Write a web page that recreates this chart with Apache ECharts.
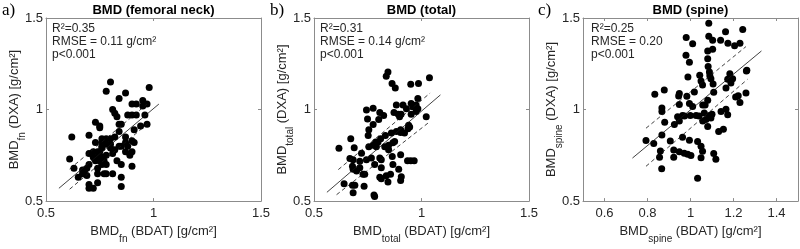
<!DOCTYPE html>
<html>
<head>
<meta charset="utf-8">
<script src="https://cdn.jsdelivr.net/npm/echarts@6/dist/echarts.min.js"></script>
<style>
html, body { margin: 0; padding: 0; background: #fff; }
#chart { width: 800px; height: 249px; }
</style>
</head>
<body>
<div id="chart"></div>
<script>
// BDAT (x) vs DXA (y), one array of points per panel
var fnPoints = [
  [0.80,1.15],[0.78,1.10],[0.62,0.85],[0.61,0.73],[0.63,0.68],[0.65,0.63],[0.98,1.12],[0.87,1.09],
  [0.84,1.06],[0.81,1.00],[0.82,0.98],[0.83,0.96],[0.90,1.03],[0.92,1.03],[0.95,1.05],[0.95,1.02],
  [0.97,1.03],[0.96,0.97],[0.92,0.97],[0.90,0.97],[0.88,0.97],[0.85,0.92],[0.84,0.92],[0.97,0.92],
  [0.94,0.91],[0.91,0.89],[0.90,0.83],[0.91,0.82],[0.87,0.85],[0.87,0.82],[0.88,0.80],[0.90,0.77],
  [0.89,0.75],[0.87,0.77],[0.85,0.80],[0.84,0.80],[0.82,0.78],[0.81,0.76],[0.83,0.72],[0.85,0.70],
  [0.90,0.69],[0.85,0.63],[0.85,0.58],[0.82,0.85],[0.80,0.84],[0.78,0.84],[0.76,0.84],[0.76,0.82],
  [0.75,0.91],[0.75,0.90],[0.73,0.93],[0.70,0.86],[0.73,0.82],[0.76,0.80],[0.76,0.79],[0.75,0.77],
  [0.74,0.77],[0.72,0.77],[0.70,0.76],[0.72,0.74],[0.74,0.74],[0.76,0.74],[0.78,0.75],[0.77,0.72],
  [0.75,0.72],[0.73,0.72],[0.70,0.70],[0.69,0.68],[0.68,0.67],[0.67,0.67],[0.67,0.65],[0.69,0.64],
  [0.74,0.68],[0.76,0.70],[0.78,0.70],[0.74,0.65],[0.77,0.65],[0.78,0.65],[0.81,0.65],[0.74,0.60],
  [0.70,0.59],[0.70,0.57],[0.72,0.57],[0.78,0.81],[0.80,0.79],[0.80,0.81],[0.84,0.88]
];
var totalPoints = [
  [0.844,1.205],[0.836,1.182],[0.863,1.142],[0.878,1.118],[1.037,1.174],[0.986,1.142],[0.950,1.138],[0.983,1.060],
  [0.883,1.025],[0.914,1.025],[0.952,1.033],[0.975,1.025],[0.960,1.015],[0.930,1.005],[0.983,1.005],[0.872,0.984],
  [0.892,0.975],[0.905,0.975],[0.898,0.960],[0.952,0.975],[0.975,0.990],[1.022,0.960],[0.775,1.007],[0.806,0.984],
  [0.824,0.968],[0.744,0.998],[0.749,0.949],[0.801,0.946],[0.775,0.919],[0.755,0.889],[0.903,0.875],[0.921,0.872],
  [0.940,0.914],[0.945,0.905],[0.937,0.895],[0.860,0.872],[0.883,0.880],[0.832,0.858],[0.810,0.840],[0.798,0.823],
  [0.787,0.823],[0.775,0.805],[0.790,0.797],[0.829,0.797],[0.847,0.805],[0.867,0.818],[0.875,0.826],[0.755,0.797],
  [0.671,0.840],[0.616,0.788],[0.687,0.791],[0.667,0.732],[0.682,0.726],[0.721,0.761],[0.713,0.718],[0.679,0.691],
  [0.682,0.674],[0.713,0.682],[0.728,0.647],[0.736,0.647],[0.698,0.665],[0.744,0.726],[0.767,0.735],[0.806,0.735],
  [0.813,0.726],[0.782,0.700],[0.813,0.682],[0.806,0.630],[0.813,0.622],[0.836,0.639],[0.856,0.647],[0.864,0.744],
  [0.867,0.700],[0.894,0.674],[0.903,0.753],[0.906,0.633],[0.903,0.612],[0.844,0.604],[0.935,0.721],[0.950,0.721],
  [0.966,0.721],[0.640,0.595],[0.679,0.586],[0.690,0.586],[0.682,0.546],[0.733,0.581],[0.779,0.533],[0.782,0.525],
  [0.752,0.858],[0.847,0.781],[0.903,0.889]
];
var spinePoints = [
  [1.085,1.472],[0.980,1.393],[1.010,1.360],[1.085,1.400],[1.103,1.379],[1.163,1.425],[1.243,1.437],[1.140,1.379],
  [1.174,1.362],[1.205,1.349],[1.230,1.362],[1.080,1.320],[1.103,1.330],[0.979,1.296],[0.995,1.258],[1.080,1.277],
  [1.082,1.235],[1.088,1.205],[1.090,1.185],[1.095,1.168],[1.043,1.188],[1.049,1.156],[1.056,1.134],[0.988,1.178],
  [1.018,1.096],[1.105,1.140],[1.108,1.095],[1.183,1.195],[1.188,1.145],[1.196,1.168],[1.173,1.165],[1.165,1.118],
  [1.260,1.210],[1.262,1.215],[1.210,1.068],[1.222,1.075],[1.230,1.038],[1.258,1.090],[0.945,1.074],[0.948,1.088],
  [0.983,1.072],[0.878,1.107],[0.834,1.084],[0.867,1.008],[0.867,0.990],[0.948,1.028],[0.995,1.033],[1.010,1.016],
  [1.057,1.025],[1.068,1.025],[1.080,1.051],[0.940,0.960],[0.963,0.967],[0.972,0.965],[0.999,0.967],[1.026,0.968],
  [1.040,0.965],[1.064,0.981],[1.088,0.968],[1.100,0.975],[1.095,0.954],[1.072,0.946],[1.057,0.937],[1.080,0.907],
  [0.925,0.919],[0.948,0.937],[0.880,0.930],[0.793,0.831],[0.829,0.815],[0.867,0.861],[0.906,0.828],[0.963,0.849],
  [0.995,0.832],[1.033,0.826],[1.049,0.800],[1.056,0.772],[1.049,0.737],[1.108,0.760],[1.118,0.729],[0.860,0.774],
  [0.856,0.740],[0.922,0.779],[0.922,0.739],[0.948,0.770],[0.971,0.761],[0.987,0.756],[1.002,0.749],[0.866,0.677],
  [1.033,0.625],[1.131,0.880],[1.153,0.893],[1.142,0.989],[1.165,1.002],[1.173,0.972]
];

// regression line and confidence bounds (end points)
var fnFit = [[0.56,0.57],[1.025,1.03]];
var fnUpper = [[0.61,0.675],[0.97,1.03]];
var fnLower = [[0.61,0.565],[0.975,0.925]];
var totalFit = [[0.56,0.548],[1.088,1.08]];
var totalUpper = [[0.613,0.672],[1.04,1.09]];
var totalLower = [[0.605,0.535],[1.04,0.935]];
var spineFit = [[0.73,0.735],[1.33,1.32]];
var spineUpper = [[0.793,0.898],[1.258,1.344]];
var spineLower = [[0.793,0.69],[1.265,1.165]];

var ticksX = [0.5, 1, 1.5];
var ticksSpineX = [0.6, 0.8, 1, 1.2, 1.4];
var ticksY = [0.5, 1, 1.5];

var panelTags = ['a)', 'b)', 'c)'];
var panelTitles = ['BMD (femoral neck)', 'BMD (total)', 'BMD (spine)'];
var subNames = ['fn', 'total', 'spine'];
var statTexts = [
  ['R\u00b2=0.35', 'RMSE = 0.11 g/cm\u00b2', 'p<0.001'],
  ['R\u00b2=0.31', 'RMSE = 0.14 g/cm\u00b2', 'p<0.001'],
  ['R\u00b2=0.25', 'RMSE = 0.20', 'p<0.001']
];

var FONT = '"Liberation Sans", Arial, Helvetica, sans-serif';
var INK = '#262626';
var BOX = '#8c8c8c';

var gridLeft = [46, 314, 583];
var gridW = 215, gridTop = 18, gridH = 190;

var pointSets = [fnPoints, totalPoints, spinePoints];
var fits = [fnFit, totalFit, spineFit];
var uppers = [fnUpper, totalUpper, spineUpper];
var lowers = [fnLower, totalLower, spineLower];
var xTickSets = [ticksX, ticksX, ticksSpineX];

function richName(sub, rest) {
  return '{b|BMD}{s|' + sub + '}{b|' + rest + '}';
}
var nameRich = {
  b: { fontSize: 13, fontFamily: FONT, color: INK, lineHeight: 16, verticalAlign: 'top' },
  s: { fontSize: 10, fontFamily: FONT, color: INK, padding: [9, 0, 0, 0], verticalAlign: 'top' }
};

var grids = [], xAxes = [], yAxes = [], series = [], graphics = [];

for (var i = 0; i < 3; i++) {
  grids.push({ left: gridLeft[i], top: gridTop, width: gridW, height: gridH, show: false });

  var lineSt = { show: true, onZero: false, lineStyle: { color: BOX, width: 1 } };
  var tickSt = { show: true, inside: true, length: 3, lineStyle: { color: BOX }, customValues: xTickSets[i] };
  xAxes.push({
    gridIndex: i, type: 'value', position: 'bottom', min: 0.5, max: 1.5,
    axisLine: lineSt, axisTick: tickSt, splitLine: { show: false },
    axisLabel: { customValues: xTickSets[i], color: INK, fontSize: 13, fontFamily: FONT, margin: 6 },
    name: richName(subNames[i], ' (BDAT) [g/cm\u00b2]'),
    nameLocation: 'middle', nameGap: 17,
    nameTextStyle: { rich: nameRich }
  });
  yAxes.push({
    gridIndex: i, type: 'value', position: 'left', min: 0.5, max: 1.5,
    axisLine: lineSt,
    axisTick: { show: true, inside: true, length: 3, lineStyle: { color: BOX }, customValues: ticksY },
    splitLine: { show: false },
    axisLabel: { customValues: ticksY, color: INK, fontSize: 13, fontFamily: FONT, margin: 3 },
    name: richName(subNames[i], ' (DXA) [g/cm\u00b2]'),
    nameLocation: 'middle', nameGap: 19, nameMoveOverlap: false,
    nameTextStyle: { rich: nameRich }
  });
}
// top and right box edges with inner ticks
for (var j = 0; j < 3; j++) {
  xAxes.push({
    gridIndex: j, type: 'value', position: 'top', min: 0.5, max: 1.5,
    axisLine: { show: true, onZero: false, lineStyle: { color: BOX, width: 1 } },
    axisTick: { show: true, inside: true, length: 3, lineStyle: { color: BOX }, customValues: xTickSets[j] },
    axisLabel: { show: false }, splitLine: { show: false }
  });
  yAxes.push({
    gridIndex: j, type: 'value', position: 'right', min: 0.5, max: 1.5,
    axisLine: { show: true, onZero: false, lineStyle: { color: BOX, width: 1 } },
    axisTick: { show: true, inside: true, length: 3, lineStyle: { color: BOX }, customValues: ticksY },
    axisLabel: { show: false }, splitLine: { show: false }
  });
}

for (var k = 0; k < 3; k++) {
  series.push({
    type: 'scatter', xAxisIndex: k, yAxisIndex: k, data: pointSets[k],
    symbolSize: 7, itemStyle: { color: '#000', opacity: 1 }, silent: true, z: 3
  });
  series.push({
    type: 'line', xAxisIndex: k, yAxisIndex: k, data: fits[k], symbol: 'none',
    lineStyle: { color: '#111', width: 0.8 }, silent: true, z: 4
  });
  series.push({
    type: 'line', xAxisIndex: k, yAxisIndex: k, data: uppers[k], symbol: 'none',
    lineStyle: { color: '#111', width: 0.8, type: [4, 3] }, silent: true, z: 4
  });
  series.push({
    type: 'line', xAxisIndex: k, yAxisIndex: k, data: lowers[k], symbol: 'none',
    lineStyle: { color: '#111', width: 0.8, type: [4, 3] }, silent: true, z: 4
  });

  graphics.push({
    type: 'text', x: 2 + k * 268, y: 2,
    style: { text: panelTags[k], font: '17px "Liberation Serif", "Times New Roman", serif', fill: '#000' }
  });
  graphics.push({
    type: 'text', x: gridLeft[k] + gridW / 2, y: 10,
    style: { text: panelTitles[k], font: 'bold 13px ' + FONT, fill: '#000', align: 'center', verticalAlign: 'middle' }
  });
  graphics.push({
    type: 'text', x: [52, 320, 591][k], y: 22,
    style: { text: statTexts[k].join('\n'), font: '12px ' + FONT, fill: INK, lineHeight: 13 }
  });
}

var chart = echarts.init(document.getElementById('chart'), null, { renderer: 'canvas' });
chart.setOption({
  animation: false,
  backgroundColor: '#fff',
  grid: grids,
  xAxis: xAxes,
  yAxis: yAxes,
  series: series,
  graphic: graphics
});
</script>
</body>
</html>
